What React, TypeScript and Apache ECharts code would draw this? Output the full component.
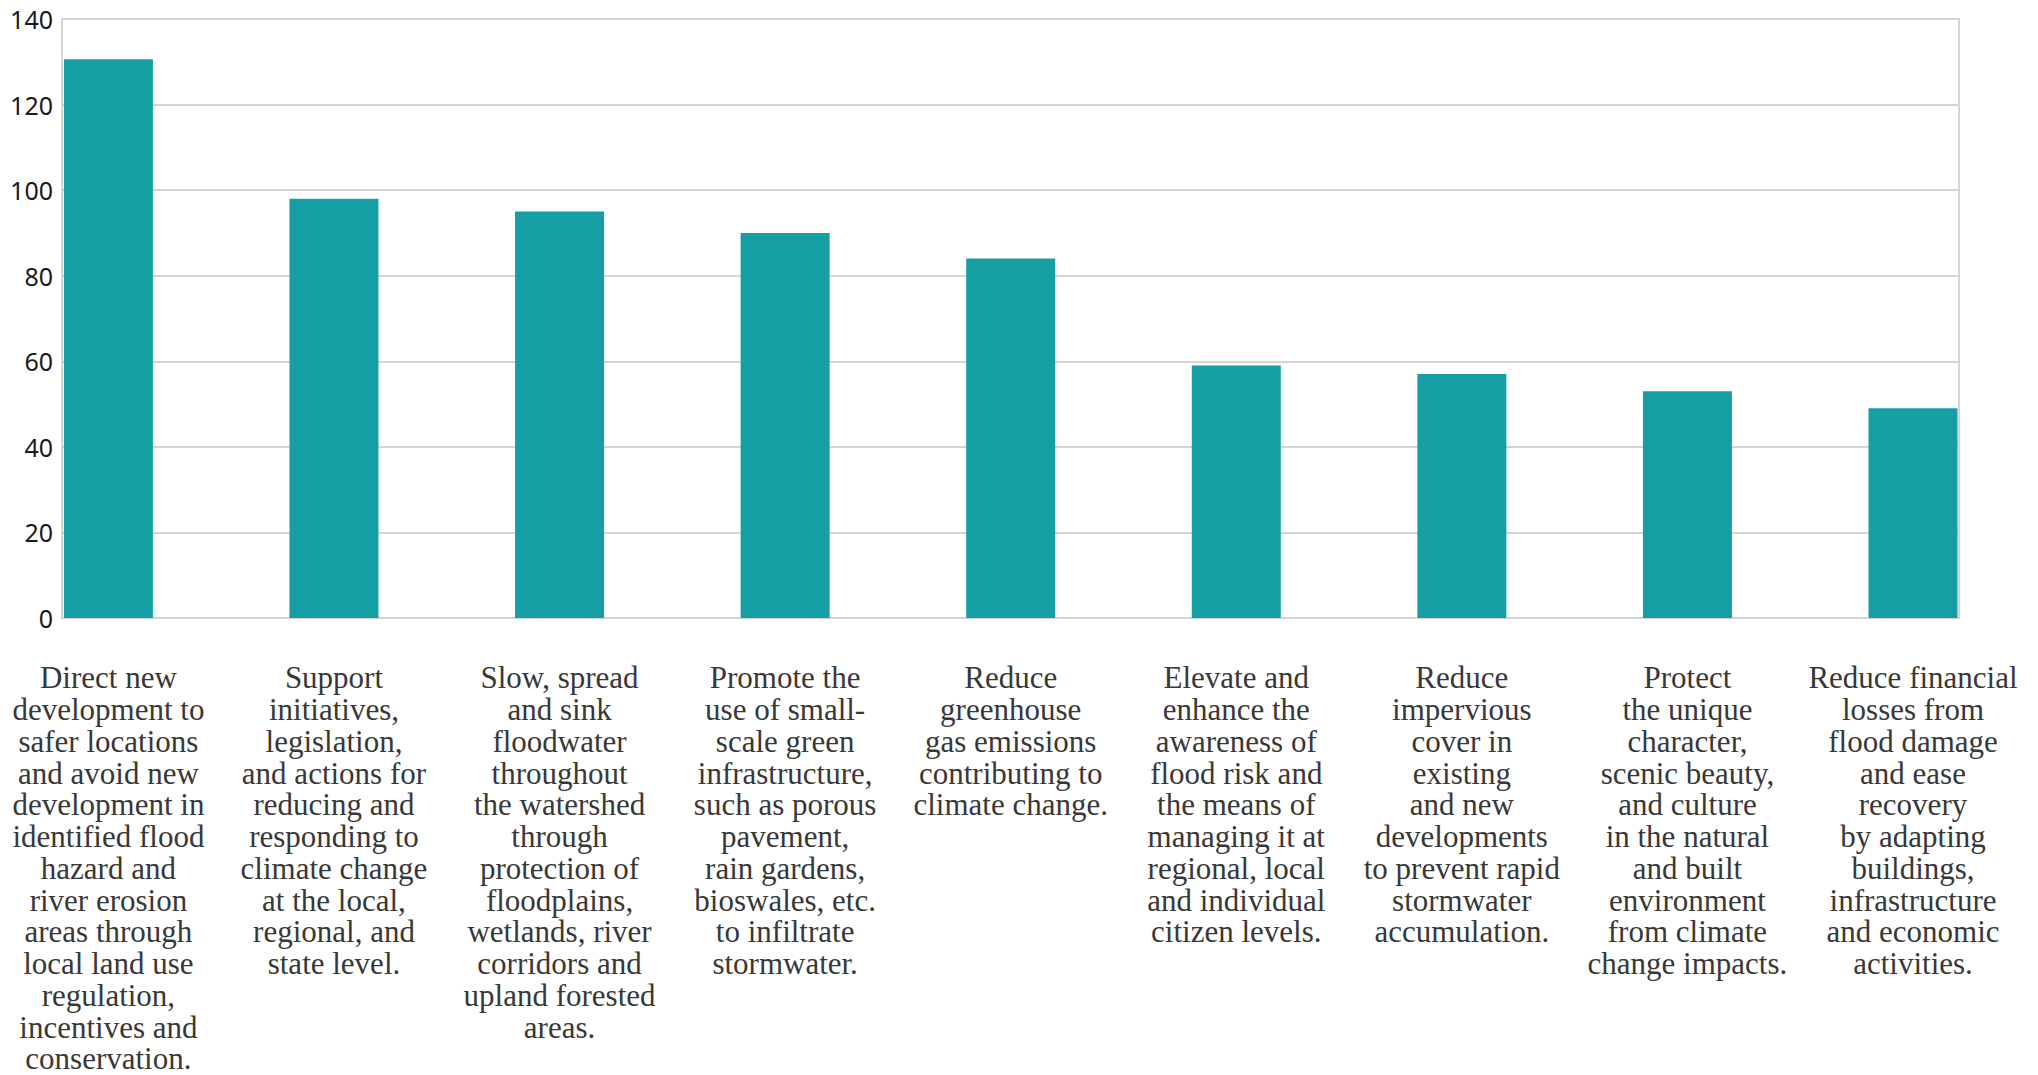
import React, { useEffect, useRef } from "react";
import * as echarts from "echarts";

const categories: string[] = [
  "Direct new\ndevelopment to\nsafer locations\nand avoid new\ndevelopment in\nidentified flood\nhazard and\nriver erosion\nareas through\nlocal land use\nregulation,\nincentives and\nconservation.",
  "Support\ninitiatives,\nlegislation,\nand actions for\nreducing and\nresponding to\nclimate change\nat the local,\nregional, and\nstate level.",
  "Slow, spread\nand sink\nfloodwater\nthroughout\nthe watershed\nthrough\nprotection of\nfloodplains,\nwetlands, river\ncorridors and\nupland forested\nareas.",
  "Promote the\nuse of small-\nscale green\ninfrastructure,\nsuch as porous\npavement,\nrain gardens,\nbioswales, etc.\nto infiltrate\nstormwater.",
  "Reduce\ngreenhouse\ngas emissions\ncontributing to\nclimate change.",
  "Elevate and\nenhance the\nawareness of\nflood risk and\nthe means of\nmanaging it at\nregional, local\nand individual\ncitizen levels.",
  "Reduce\nimpervious\ncover in\nexisting\nand new\ndevelopments\nto prevent rapid\nstormwater\naccumulation.",
  "Protect\nthe unique\ncharacter,\nscenic beauty,\nand culture\nin the natural\nand built\nenvironment\nfrom climate\nchange impacts.",
  "Reduce financial\nlosses from\nflood damage\nand ease\nrecovery\nby adapting\nbuildings,\ninfrastructure\nand economic\nactivities.",
];

const values: number[] = [130.6, 98, 95, 90, 84, 59, 57, 53, 49];

const yMin = 0;
const yMax = 140;
const yInterval = 20;

export default function App() {
  const ref = useRef<HTMLDivElement>(null);

  useEffect(() => {
    if (!ref.current) return;
    const chart = echarts.init(ref.current, undefined, { renderer: "svg" });
    const gridColor = "#d4d4d4";
    chart.setOption({
      animation: false,
      backgroundColor: "#ffffff",
      grid: [
        {
          left: 62,
          right: 79,
          top: 19,
          bottom: 457,
          show: true,
          borderColor: gridColor,
          borderWidth: 2,
          backgroundColor: "transparent",
          containLabel: false,
          outerBoundsMode: "none",
        },
        {
          left: 108.4,
          right: 125,
          top: 19,
          bottom: 457,
          containLabel: false,
          outerBoundsMode: "none",
        },
      ],
      xAxis: [
        {
          gridIndex: 0,
          type: "value",
          show: false,
          min: 0,
          max: 1,
        },
        {
          gridIndex: 1,
          type: "category",
          boundaryGap: false,
          data: categories,
          axisLine: { show: false },
          axisTick: { show: false },
          splitLine: { show: false },
          axisLabel: {
            interval: 0,
            margin: 44,
            verticalAlign: "top",
            align: "center",
            fontFamily: "Liberation Serif",
            fontSize: 31,
            lineHeight: 31.75,
            color: "#383838",
          },
        },
      ],
      yAxis: [
        {
          gridIndex: 0,
          type: "value",
          min: yMin,
          max: yMax,
          interval: yInterval,
          axisLine: { show: true, lineStyle: { color: gridColor, width: 2 } },
          axisTick: { show: false },
          splitLine: { show: true, lineStyle: { color: gridColor, width: 2 } },
          axisLabel: {
            margin: 9,
            fontFamily: "Noto Sans",
            fontSize: 25,
            color: "#1a1a1a",
          },
        },
        {
          gridIndex: 1,
          type: "value",
          min: yMin,
          max: yMax,
          interval: yInterval,
          show: false,
          splitLine: { show: false },
        },
      ],
      series: [
        {
          type: "bar",
          xAxisIndex: 1,
          yAxisIndex: 1,
          data: values,
          barWidth: 89,
          itemStyle: { color: "#169ea5" },
          z: 3,
        },
      ],
    });
    return () => chart.dispose();
  }, []);

  return (
    <div
      ref={ref}
      style={{ position: "fixed", left: 0, top: 0, width: 2038, height: 1075, background: "#fff" }}
    />
  );
}
